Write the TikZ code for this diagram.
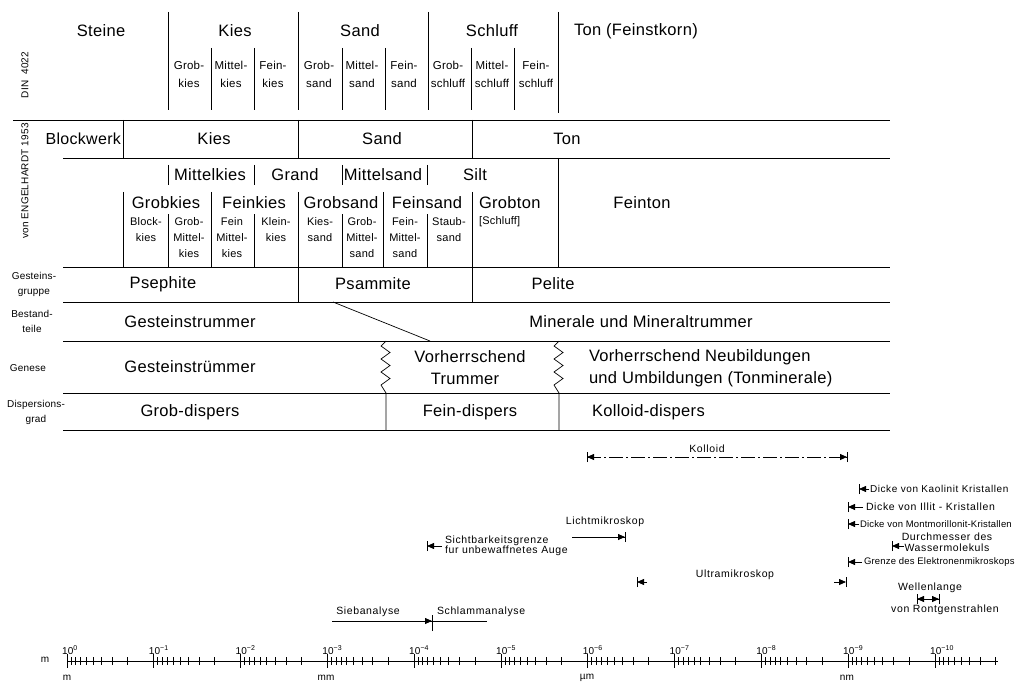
\documentclass[tikz,border=0pt]{standalone}
\usepackage{fontspec}
\setmainfont[LetterSpace=2]{Liberation Sans}
\newfontfamily\annfont[LetterSpace=6]{Liberation Sans}
\usetikzlibrary{arrows.meta}
\begin{document}
\begin{tikzpicture}[x=1pt,y=-1pt,
  every node/.style={inner sep=0pt,outer sep=0pt},
  rule/.style={line width=0.9pt},
  thin rule/.style={line width=0.7pt},
  big/.style={font=\fontsize{16.5}{22}\selectfont,align=center},
  bigl/.style={font=\fontsize{16.5}{22}\selectfont,align=left},
  sub/.style={font=\fontsize{11.5}{18}\selectfont,align=center},
  subb/.style={font=\fontsize{11}{16}\selectfont,align=center},
  side/.style={font=\fontsize{10}{15}\selectfont,align=center},
  ann/.style={font=\annfont\fontsize{10.5}{10.5}\selectfont,align=left},
  annc/.style={font=\annfont\fontsize{10.5}{10.5}\selectfont,align=center},
  anns/.style={font=\fontsize{9.5}{10.5}\selectfont,align=left},
  tipl/.style={line width=0.8pt,-{Triangle[length=7pt,width=6pt]}},
  barl/.style={line width=0.9pt},
  scl/.style={font=\fontsize{10}{12}\selectfont}]
\useasboundingbox (0,0) rectangle (1018,682);

% ---------------- horizontal rules
\draw[rule] (13,120) -- (890,120);
\foreach \yy in {158,267,302,341,393,430} \draw[rule] (63,\yy) -- (890,\yy);

% ---------------- DIN 4022 verticals
\foreach \xx in {168,298,428} \draw[rule] (\xx,12) -- (\xx,110);
\draw[rule] (558,12) -- (558,113);
\foreach \xx in {211,254,342,385,471,514} \draw[thin rule] (\xx,48) -- (\xx,110);

% ---------------- Engelhardt verticals
\foreach \xx in {123,298,472} \draw[rule] (\xx,120) -- (\xx,158);
\foreach \xx in {168,254,342,427} \draw[thin rule] (\xx,165) -- (\xx,185);
\foreach \xx in {123,211,298,383,472} \draw[thin rule] (\xx,192) -- (\xx,267);
\foreach \xx in {168,254,342,427} \draw[thin rule] (\xx,214) -- (\xx,267);
\draw[rule] (558,158) -- (558,267);

% ---------------- lower rows
\draw[rule] (298,267) -- (298,302);
\draw[rule] (472,267) -- (472,302);
\draw[thin rule] (333,302) -- (430,341);
\draw[thin rule] (386,341) -- (381,346) -- (390,352.5) -- (381,359) -- (390,365.5) -- (381,372) -- (390,378.5) -- (381,385) -- (386,393) -- (386,430);
\draw[thin rule] (559,341) -- (554,346) -- (563,352.5) -- (554,359) -- (563,365.5) -- (554,372) -- (563,378.5) -- (554,385) -- (559,393) -- (559,430);

% ---------------- side labels
\node[side,rotate=90] (lDIN) at (25,75) {DIN\ \ 4022};
\node[side,rotate=90] (lENG) at (25,181) {von ENGELHARDT 1953};
\node[side] (lGG) at (34,284) {Gesteins-\\gruppe};
\node[side] (lBT) at (32,321) {Bestand-\\teile};
\node[side] (lGE) at (28,368) {Genese};
\node[side] (lDG) at (36,412) {Dispersions-\\grad};

% ---------------- DIN texts
\node[big] (dSteine) at (101,31) {Steine};
\node[big] (dKies) at (235,31) {Kies};
\node[big] (dSand) at (360,31) {Sand};
\node[big] (dSchluff) at (492,31) {Schluff};
\node[big,anchor=west] (dTon) at (574,31) {Ton (Feinstkorn)};
\node[sub] (d1) at (189,74) {Grob-\\kies};
\node[sub] (d2) at (231,74) {Mittel-\\kies};
\node[sub] (d3) at (273,74) {Fein-\\kies};
\node[sub] (d4) at (319,74) {Grob-\\sand};
\node[sub] (d5) at (362,74) {Mittel-\\sand};
\node[sub] (d6) at (404,74) {Fein-\\sand};
\node[sub] (d7) at (448,74) {Grob-\\schluff};
\node[sub] (d8) at (492,74) {Mittel-\\schluff};
\node[sub] (d9) at (536,74) {Fein-\\schluff};

% ---------------- Engelhardt texts
\node[big,font=\fontsize{16}{22}\selectfont,anchor=east] (eBlock) at (121,139) {Blockwerk};
\node[big] (eKies) at (214,139) {Kies};
\node[big] (eSand) at (382,139) {Sand};
\node[big] (eTon) at (567,139) {Ton};
\node[big] (eMK) at (210,175) {Mittelkies};
\node[big] (eGr) at (295,175) {Grand};
\node[big] (eMS) at (383,175) {Mittelsand};
\node[big] (eSi) at (475,175) {Silt};
\node[big] (eGK) at (166,203) {Grobkies};
\node[big] (eFK) at (254,203) {Feinkies};
\node[big] (eGS) at (341,203) {Grobsand};
\node[big] (eFS) at (427,203) {Feinsand};
\node[big,anchor=west] (eGT) at (479,203) {Grobton};
\node[subb,anchor=west] (eGTs) at (479,222) {[Schluff]};
\node[big] (eFT) at (642,203) {Feinton};
\node[subb] (e1) at (146,230) {Block-\\kies};
\node[subb] (e2) at (189,238) {Grob-\\Mittel-\\kies};
\node[subb] (e3) at (232,238) {Fein\\Mittel-\\kies};
\node[subb] (e4) at (276,230) {Klein-\\kies};
\node[subb] (e5) at (320,230) {Kies-\\sand};
\node[subb] (e6) at (362,238) {Grob-\\Mittel-\\sand};
\node[subb] (e7) at (405,238) {Fein-\\Mittel-\\sand};
\node[subb] (e8) at (449,230) {Staub-\\sand};

% ---------------- lower row texts
\node[big] (gPse) at (163,284) {Psephite};
\node[big] (gPsa) at (373,284) {Psammite};
\node[big] (gPel) at (553,284) {Pelite};
\node[big] (bGes) at (190,322) {Gesteinstrummer};
\node[big] (bMin) at (641,322) {Minerale und Mineraltrummer};
\node[big] (gGes) at (190,367) {Gesteinstrümmer};
\node[big] (gVor) at (470,368) {Vorherrschend\\\hspace*{-10pt}Trummer};
\node[bigl,anchor=west] (gNeu) at (589,368) {Vorherrschend Neubildungen\\und Umbildungen (Tonminerale)};
\node[big] (pGrob) at (190,412) {Grob-dispers};
\node[big] (pFein) at (470,412) {Fein-dispers};
\node[big,anchor=west] (pKol) at (592,412) {Kolloid-dispers};

% ---------------- annotations
% Kolloid
\coordinate (k1) at (587,457); \coordinate (k2) at (847,457);
\draw[line width=0.7pt,dash pattern=on 14pt off 3pt on 2pt off 3pt] (k1) -- (k2);
\draw[tipl] ([xshift=12pt]k1) -- (k1);
\draw[tipl] ([xshift=-12pt]k2) -- (k2);
\draw[barl] ([yshift=-5pt]k1) -- ([yshift=5pt]k1);
\draw[barl] ([yshift=-5pt]k2) -- ([yshift=5pt]k2);
\node[annc] (tKol) at (707,449) {Kolloid};

% Dicke von Kaolinit
\coordinate (ka) at (859,489);
\draw[barl] ([yshift=-5pt]ka) -- ([yshift=5pt]ka);
\draw[tipl] ([xshift=10pt]ka) -- (ka);
\node[ann,font=\annfont\fontsize{10}{10}\selectfont,anchor=west] (tKa) at (870,489) {Dicke von Kaolinit Kristallen};
% Illit
\coordinate (il) at (848,507);
\draw[barl] ([yshift=-5pt]il) -- ([yshift=5pt]il);
\draw[tipl] ([xshift=15pt]il) -- (il);
\node[ann,anchor=west] (tIl) at (866,507) {Dicke von Illit - Kristallen};
% Montmorillonit
\coordinate (mo) at (848,524);
\draw[barl] ([yshift=-5pt]mo) -- ([yshift=5pt]mo);
\draw[tipl] ([xshift=11pt]mo) -- (mo);
\node[anns,anchor=west] (tMo) at (860,524) {Dicke von Montmorillonit-Kristallen};
% Wassermolekuel
\coordinate (wa) at (892,546);
\draw[barl] ([yshift=-5pt]wa) -- ([yshift=5pt]wa);
\draw[tipl] ([xshift=12pt]wa) -- (wa);
\node[annc] (tWa) at (947,542) {Durchmesser des\\Wassermolekuls};
% Elektronenmikroskop
\coordinate (el) at (848,562);
\draw[barl] ([yshift=-5pt]el) -- ([yshift=5pt]el);
\draw[tipl] ([xshift=14pt]el) -- (el);
\node[anns,anchor=west] (tEl) at (864,562) {Grenze des Elektronenmikroskops};
% Ultramikroskop
\coordinate (u1) at (637,582); \coordinate (u2) at (846,582);
\draw[barl] ([yshift=-5pt]u1) -- ([yshift=5pt]u1);
\draw[tipl] ([xshift=10pt]u1) -- (u1);
\draw[barl] ([yshift=-5pt]u2) -- ([yshift=5pt]u2);
\draw[tipl] ([xshift=-12pt]u2) -- (u2);
\node[annc] (tUl) at (735,575) {Ultramikroskop};
% Roentgen
\coordinate (r1) at (917,599); \coordinate (r2) at (939,599);
\draw[barl] ([yshift=-5pt]r1) -- ([yshift=5pt]r1);
\draw[barl] ([yshift=-5pt]r2) -- ([yshift=5pt]r2);
\draw[barl] (r1) -- (r2);
\draw[tipl] ([xshift=9pt]r1) -- (r1);
\draw[tipl] ([xshift=-9pt]r2) -- (r2);
\node[annc] (tWl) at (930,588) {Wellenlange};
\node[annc] (tRo) at (945,610) {von Rontgenstrahlen};
% Lichtmikroskop
\coordinate (li1) at (572,537); \coordinate (li2) at (625,537);
\draw[line width=0.7pt] (li1) -- (li2);
\draw[barl] ([yshift=-5pt]li2) -- ([yshift=5pt]li2);
\draw[tipl] ([xshift=-12pt]li2) -- (li2);
\node[annc] (tLi) at (605,522) {Lichtmikroskop};
% Sichtbarkeitsgrenze
\coordinate (si) at (427,546);
\draw[barl] ([yshift=-5pt]si) -- ([yshift=5pt]si);
\draw[tipl] ([xshift=15pt]si) -- (si);
\node[ann,anchor=west] (tSi) at (445,546) {Sichtbarkeitsgrenze\\fur unbewaffnetes Auge};
% Sieb / Schlamm
\coordinate (sa) at (432,621); \coordinate (sa0) at (332,621); \coordinate (sa1) at (487,621);
\draw[line width=0.7pt] (sa0) -- (sa1);
\draw[barl] ([yshift=-10pt]sa) -- ([yshift=6pt]sa);
\draw[tipl] ([xshift=-12pt]sa) -- (sa);
\node[annc] (tSb) at (368,612) {Siebanalyse};
\node[ann,anchor=west] (tSl) at (437,612) {Schlammanalyse};

% ---------------- scale
\coordinate (s0) at (67,661); \coordinate (s1) at (998,661);
\draw[line width=0.9pt] (s0) -- (s1);
\foreach \d/\lab in {0/0,1/−1,2/−2,3/−3,4/−4,5/−5,6/−6,7/−7,8/−8,9/−9,10/−10}{
  \pgfmathsetmacro\xo{67+86.8*\d}
  \draw[line width=1pt] (\xo,654) -- (\xo,668);
  \node[scl,anchor=south west] at (\xo-5,655) {10\raisebox{4pt}{\fontsize{7}{7}\selectfont\lab}};
  \foreach \k in {9,8,7,6,5,4,3,2}{
    \pgfmathsetmacro\xk{\xo+86.8*(1-log10(\k))}
    \draw[line width=0.6pt] (\xk,657) -- (\xk,665);
  }
}
\node[scl] (uL) at (45,660) {m};
\node[scl] (u0) at (67,678) {m};
\node[scl] (u3) at (326,678) {mm};
\node[scl] (u6) at (587,678) {µm};
\node[scl] (u9) at (847,678) {nm};
\end{tikzpicture}
\end{document}
